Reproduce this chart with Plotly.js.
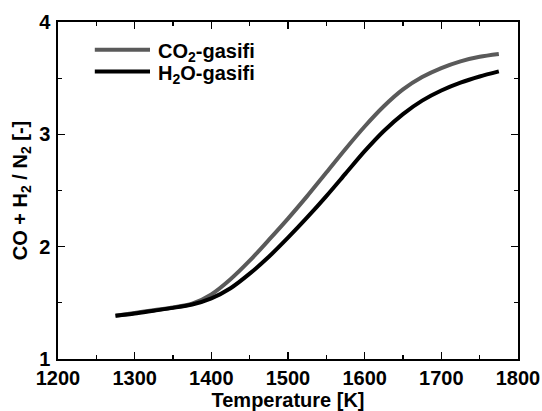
<!DOCTYPE html>
<html>
<head>
<meta charset="utf-8">
<script src="https://cdn.plot.ly/plotly-3.0.1.min.js"></script>
<style>
  html, body { margin: 0; padding: 0; background: #fff; }
  #chart { width: 542px; height: 411px; }
</style>
</head>
<body>
<div id="chart"></div>
<script>
// Gasification temperature [K]
const temperature = [1275, 1300, 1325, 1350, 1375, 1400, 1425, 1450, 1475, 1500, 1525, 1550, 1575, 1600, 1625, 1650, 1675, 1700, 1725, 1750, 1775];

// (CO + H2) / N2 ratio for each gasifying agent
const co2Gasifi = [1.385, 1.41, 1.435, 1.458, 1.492, 1.575, 1.71, 1.875, 2.06, 2.25, 2.45, 2.66, 2.87, 3.07, 3.25, 3.40, 3.51, 3.59, 3.65, 3.69, 3.715];
const h2oGasifi = [1.385, 1.405, 1.43, 1.455, 1.485, 1.54, 1.63, 1.76, 1.91, 2.08, 2.26, 2.45, 2.65, 2.85, 3.03, 3.18, 3.30, 3.39, 3.46, 3.515, 3.56];

const seriesNames = ['CO<sub>2</sub>-gasifi', 'H<sub>2</sub>O-gasifi'];
const seriesColors = ['#5a5a5a', '#000000'];

// Axis ticks
const xTickVals = [1200, 1300, 1400, 1500, 1600, 1700, 1800];
const yTickVals = [1, 2, 3, 4];

const FONT = 'Liberation Sans, Arial, sans-serif';
const bold = v => '<b>' + v + '</b>';
const boldFont = size => ({ family: FONT, size: size, color: '#000', weight: 700 });

const traces = [co2Gasifi, h2oGasifi].map((ys, i) => ({
  x: temperature, y: ys, name: seriesNames[i],
  mode: 'lines',
  line: { color: seriesColors[i], width: 4, shape: 'spline', smoothing: 0.8 }
}));

const axisCommon = {
  showline: true, linecolor: '#000', linewidth: 1.6, mirror: 'ticks',
  ticks: 'inside', ticklen: 7, tickwidth: 1.3, tickcolor: '#000',
  showgrid: false, zeroline: false, tickmode: 'array',
  tickfont: boldFont(20)
};

// Legend block drawn inside the plot area (longer sample lines than the built-in legend)
const legendRows = [0.918, 0.853];
const legendShapes = legendRows.map((y, i) => ({
  type: 'line', xref: 'paper', yref: 'paper',
  x0: 0.08, x1: 0.20, y0: y, y1: y,
  line: { color: seriesColors[i], width: 4 }
}));
const legendLabels = legendRows.map((y, i) => ({
  xref: 'paper', yref: 'paper', x: 0.213, y: y, yshift: -3,
  xanchor: 'left', yanchor: 'middle', showarrow: false,
  text: bold(seriesNames[i]),
  font: boldFont(20)
}));

const layout = {
  width: 542, height: 411,
  margin: { l: 58, r: 24, t: 22, b: 52 },
  paper_bgcolor: '#fff', plot_bgcolor: '#fff',
  font: { family: FONT, color: '#000' },
  showlegend: false,
  shapes: legendShapes,
  annotations: legendLabels,
  xaxis: Object.assign({}, axisCommon, {
    range: [1200, 1800],
    tickvals: xTickVals, ticktext: xTickVals.map(bold),
    minor: { ticks: 'inside', dtick: 50, ticklen: 4, tickcolor: '#000', tickwidth: 1.2 },
    ticklabelstandoff: 0,
    title: { text: bold('Temperature [K]'), standoff: 9, font: boldFont(20) }
  }),
  yaxis: Object.assign({}, axisCommon, {
    range: [1, 4],
    tickvals: yTickVals, ticktext: yTickVals.map(bold),
    minor: { ticks: 'inside', dtick: 0.5, ticklen: 4, tickcolor: '#000', tickwidth: 1.2 },
    ticklabelstandoff: 2,
    title: { text: bold('CO + H<sub>2</sub> / N<sub>2</sub> [-]'), standoff: 6, font: boldFont(20) }
  })
};

Plotly.newPlot('chart', traces, layout, { displayModeBar: false, staticPlot: true });
</script>
</body>
</html>
